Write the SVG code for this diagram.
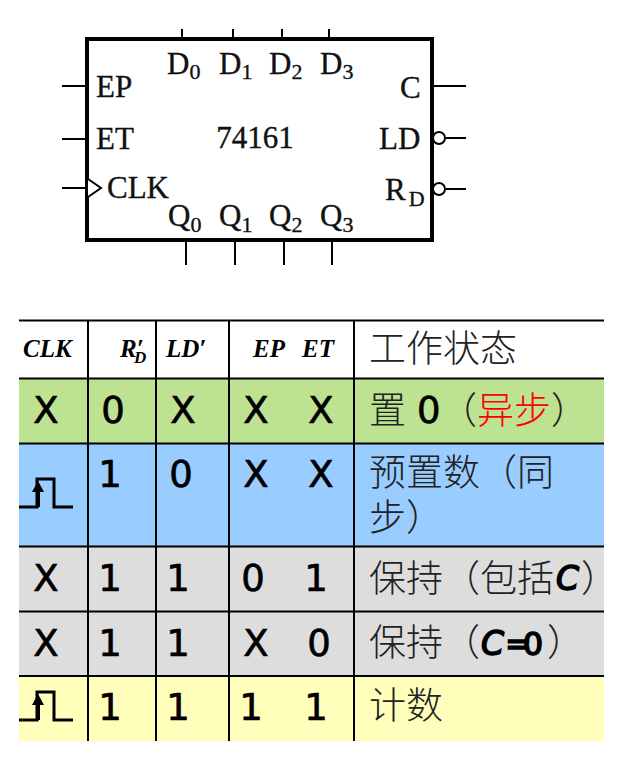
<svg xmlns="http://www.w3.org/2000/svg" width="625" height="769" viewBox="0 0 625 769">
<style>
.pin{stroke:#000;stroke-width:2;fill:none}
.lb{font:31px "Liberation Serif",serif;fill:#111;stroke:#111;stroke-width:.35}
.sub{font-size:22px}
.g{stroke:#000;stroke-width:3;fill:none}
.h{font:italic bold 25px "Liberation Serif",serif;fill:#000}
.c{font:37px "DejaVu Sans",sans-serif;fill:#000;stroke:#000;stroke-width:.7;text-anchor:middle}
.l{text-anchor:start}
.z{font:37px "Noto Sans CJK SC",sans-serif;font-weight:300;fill:#222}
.m{font:italic 33px "DejaVu Sans",sans-serif;fill:#000;stroke:#000;stroke-width:1.5}
.e{font-size:32px;stroke-width:1.5}
</style>
<defs>
<g id="pulse"><path class="g" d="M0 0H18V-28H35V0H54"/><path d="M17 0V-15H13L19 -26L25 -15H21V0Z" fill="#000"/></g>
</defs>
<g id="chip">
<rect x="87" y="39" width="345" height="201" fill="#fff" stroke="#000" stroke-width="4"/>
<text class="lb" x="255" y="148" text-anchor="middle">74161</text>
</g>
<g id="connectors">
<path class="pin" d="M182 29V38M233 29V38M282 29V38M329 29V38M186 241V265M235 241V265M284 241V265M332 241V265M62 86H86M62 139H86M62 188H86M433 86H466M446 138H466M446 189H466"/>
<path d="M88 179L101 188L88 197" fill="#fff" stroke="#000" stroke-width="2"/>
<circle cx="439" cy="138" r="6" fill="#fff" stroke="#000" stroke-width="2"/>
<circle cx="439" cy="189" r="6" fill="#fff" stroke="#000" stroke-width="2"/>
</g>
<g id="pin-labels">
<text class="lb" x="167" y="74">D<tspan class="sub" dy="5">0</tspan></text>
<text class="lb" x="219" y="74">D<tspan class="sub" dy="5">1</tspan></text>
<text class="lb" x="269" y="74">D<tspan class="sub" dy="5">2</tspan></text>
<text class="lb" x="320" y="74">D<tspan class="sub" dy="5">3</tspan></text>
<text class="lb" x="96" y="97">EP</text>
<text class="lb" x="96" y="149">ET</text>
<text class="lb" x="107" y="198">CLK</text>
<text class="lb" x="400" y="98">C</text>
<text class="lb" x="379" y="149">LD</text>
<text class="lb" x="385" y="200">R<tspan class="sub" dx="3" dy="6">D</tspan></text>
<text class="lb" x="168" y="226">Q<tspan class="sub" dy="6">0</tspan></text>
<text class="lb" x="219" y="226">Q<tspan class="sub" dy="6">1</tspan></text>
<text class="lb" x="269" y="226">Q<tspan class="sub" dy="6">2</tspan></text>
<text class="lb" x="320" y="226">Q<tspan class="sub" dy="6">3</tspan></text>
</g>
<g id="table-fills">
<rect x="19" y="379" width="585" height="65" fill="#bce292"/>
<rect x="19" y="444" width="585" height="103" fill="#99ccff"/>
<rect x="19" y="547" width="585" height="129" fill="#dddddd"/>
<rect x="19" y="676" width="585" height="65" fill="#ffffbb"/>
</g>
<g id="table-grid" stroke="#000" stroke-width="2">
<path d="M19 320.500H604M19 378.500H604M19 443.500H604M19 546.500H604M19 611.500H604M19 676H604" fill="none"/>
<path d="M88 320V741M156 320V741M229 320V741M354 320V741" fill="none"/>
</g>
<g id="header">
<text class="h" x="23" y="357">CLK</text>
<text class="h" x="120" y="357">R′<tspan x="134" dy="6" style="font-size:17px">D</tspan></text>
<text class="h" x="166" y="357">LD′</text>
<text class="h" x="253" y="357">EP</text>
<text class="h" x="302" y="357">ET</text>
<text class="z" x="369" y="362">工作状态</text>
</g>
<g id="row1">
<text class="c" x="46" y="423">X</text><text class="c" x="113" y="423">0</text><text class="c" x="183" y="423">X</text><text class="c" x="256" y="423">X</text><text class="c" x="321" y="423">X</text>
<text class="z" x="369" y="424">置</text><text class="c l" x="417" y="423">0</text><text class="z" x="440" y="424">（<tspan fill="#ff0000">异步</tspan>）</text>
</g>
<g id="row2">
<use href="#pulse" x="19" y="507"/>
<text class="c" x="110" y="487">1</text><text class="c" x="181" y="487">0</text><text class="c" x="256" y="487">X</text><text class="c" x="321" y="487">X</text>
<text class="z" x="369" y="486">预置数（同<tspan x="369" dy="45">步）</tspan></text>
</g>
<g id="row3">
<text class="c" x="46" y="591">X</text><text class="c" x="110" y="591">1</text><text class="c" x="178" y="591">1</text><text class="c" x="253" y="591">0</text><text class="c" x="316" y="591">1</text>
<text class="z" x="369" y="592">保持（包括</text><text class="m" x="556" y="590">C</text><text class="z" x="581" y="592">）</text>
</g>
<g id="row4">
<text class="c" x="46" y="656">X</text><text class="c" x="110" y="656">1</text><text class="c" x="178" y="656">1</text><text class="c" x="256" y="656">X</text><text class="c" x="319" y="656">0</text>
<text class="z" x="369" y="656">保持（</text><text class="m" x="481" y="655">C</text><text class="c l e" x="505" y="655" textLength="38">=0</text><text class="z" x="547" y="656">）</text>
</g>
<g id="row5">
<use href="#pulse" x="19" y="720"/>
<text class="c" x="110" y="720">1</text><text class="c" x="178" y="720">1</text><text class="c" x="251" y="720">1</text><text class="c" x="316" y="720">1</text>
<text class="z" x="369" y="719">计数</text>
</g>
</svg>
